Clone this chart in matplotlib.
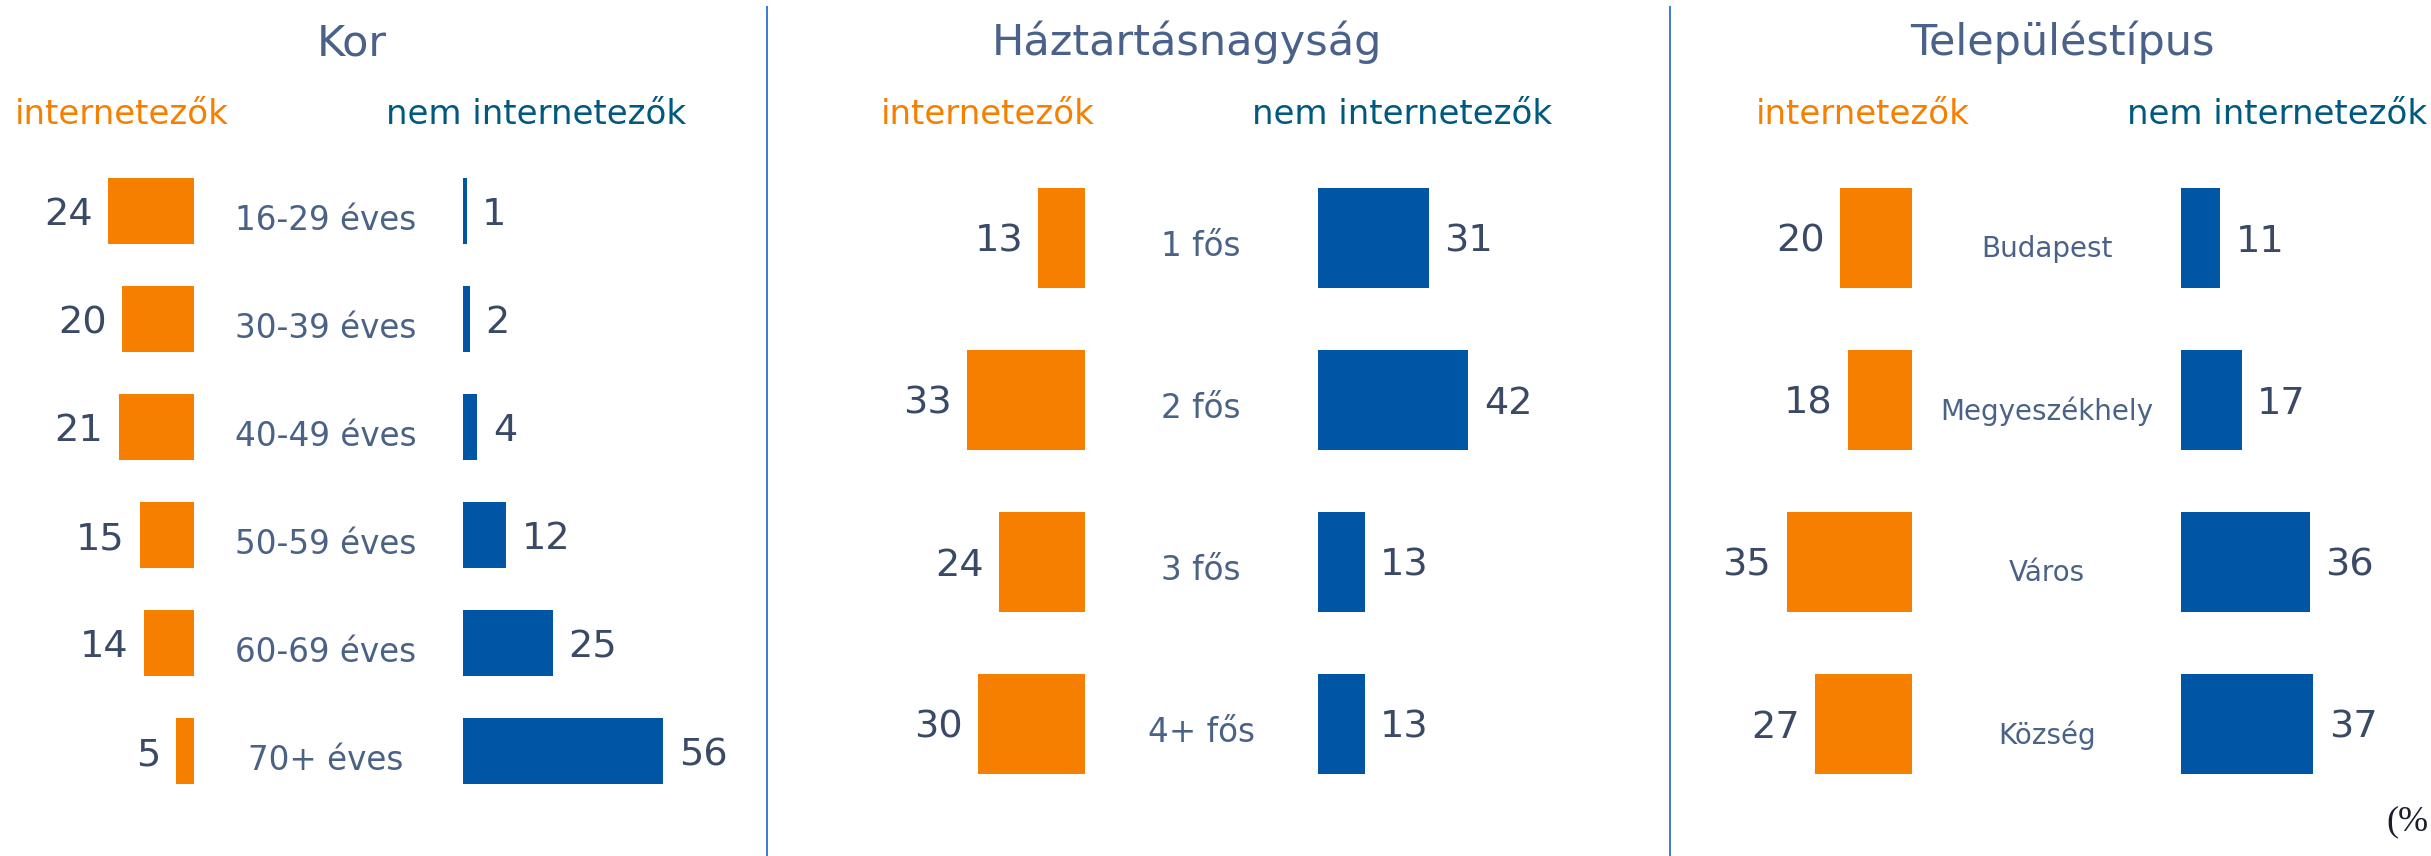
import numpy as np
import matplotlib
matplotlib.use('Agg')
import matplotlib.pyplot as plt
from matplotlib.lines import Line2D
from matplotlib.transforms import blended_transform_factory

# --- ADATOK (százalék) ---
kor_kategoriak = ['16-29 éves', '30-39 éves', '40-49 éves', '50-59 éves', '60-69 éves', '70+ éves']
kor_internetezok = [24, 20, 21, 15, 14, 5]
kor_nem_internetezok = [1, 2, 4, 12, 25, 56]

haztartas_kategoriak = ['1 fős', '2 fős', '3 fős', '4+ fős']
haztartas_internetezok = [13, 33, 24, 30]
haztartas_nem_internetezok = [31, 42, 13, 13]

telepules_kategoriak = ['Budapest', 'Megyeszékhely', 'Város', 'Község']
telepules_internetezok = [20, 18, 35, 27]
telepules_nem_internetezok = [11, 17, 36, 37]

cimek = ['Kor', 'Háztartásnagyság', 'Településtípus']
fejlec_bal = 'internetezők'
fejlec_jobb = 'nem internetezők'

# --- SZÍNEK ---
NARANCS = '#F77F00'
KEK = '#0055A4'
CIM_SZIN = '#4A6189'
CIMKE_SZIN = '#4B6287'
ERTEK_SZIN = '#3A4966'
FEJLEC_KEK = '#00597E'
VONAL_SZIN = '#3A7BD0'

plt.rcParams['font.family'] = ['DejaVu Sans']

# A kép mérete pixelben (dpi=100)
W, H = 2431, 856
PX = 3.58  # pixel / százalékpont


def fx(px):
    return px / W


def fy(px):
    return 1 - px / H


fig = plt.figure(figsize=(W / 100, H / 100), dpi=100)
fig.patch.set_facecolor('white')


def rajzol_panel(cim, kategoriak, bal, jobb, cfg):
    """Egy panel: bal oldalon a narancs, jobb oldalon a kék sávok."""
    n = len(kategoriak)
    teto, alj = 157, 805
    bal_lim, jobb_lim = 45, 60

    ax_b = fig.add_axes([fx(cfg['bal_szel'] - bal_lim * PX), fy(alj), fx(bal_lim * PX), (alj - teto) / H])
    ax_j = fig.add_axes([fx(cfg['jobb_szel']), fy(alj), fx(jobb_lim * PX), (alj - teto) / H])

    y = np.arange(n)
    ax_b.barh(y, bal, height=0.62, color=NARANCS)
    ax_j.barh(y, jobb, height=0.62, color=KEK)
    ax_b.set_xlim(bal_lim, 0)  # megfordítva, hogy balra nőjön
    ax_j.set_xlim(0, jobb_lim)
    for ax in (ax_b, ax_j):
        ax.set_ylim(n - 0.5, -0.5)
        ax.axis('off')

    # értékcímkék a sávok végén
    for i, v in enumerate(bal):
        ax_b.text(v + 4.3, i, str(v), ha='right', va='center_baseline',
                  fontsize=27.5, color=ERTEK_SZIN)
    for i, v in enumerate(jobb):
        ax_j.text(v + 4.3, i, str(v), ha='left', va='center_baseline',
                  fontsize=27.5, color=ERTEK_SZIN)

    # kategórianevek középen
    trans = blended_transform_factory(fig.transFigure, ax_j.transData)
    for i, k in enumerate(kategoriak):
        ax_j.text(fx(cfg['cimke_x']), i + cfg['cimke_dy'], k, transform=trans,
                  ha='center', va='center_baseline', fontsize=cfg['cimke_meret'],
                  color=CIMKE_SZIN)

    # panel címe és fejlécek
    fig.text(fx(cfg['cim_x']), fy(55), cim, ha='center', va='baseline',
             fontsize=31, color=CIM_SZIN)
    fig.text(fx(cfg['fejlec_b']), fy(124), fejlec_bal, ha='center', va='baseline',
             fontsize=24.5, color=NARANCS)
    fig.text(fx(cfg['fejlec_j']), fy(124), fejlec_jobb, ha='center', va='baseline',
             fontsize=24.5, color=FEJLEC_KEK)


rajzol_panel(cimek[0], kor_kategoriak, kor_internetezok, kor_nem_internetezok,
             dict(bal_szel=194, jobb_szel=463, cimke_x=326, cimke_dy=0.06, cimke_meret=23.5,
                  cim_x=352, fejlec_b=122, fejlec_j=536))
rajzol_panel(cimek[1], haztartas_kategoriak, haztartas_internetezok, haztartas_nem_internetezok,
             dict(bal_szel=1085, jobb_szel=1318, cimke_x=1201, cimke_dy=0.03, cimke_meret=23.5,
                  cim_x=1187, fejlec_b=988, fejlec_j=1402))
rajzol_panel(cimek[2], telepules_kategoriak, telepules_internetezok, telepules_nem_internetezok,
             dict(bal_szel=1912, jobb_szel=2181, cimke_x=2047, cimke_dy=0.05, cimke_meret=20,
                  cim_x=2062, fejlec_b=1863, fejlec_j=2277))

# elválasztó vonalak a panelek között
for x in (767, 1670):
    fig.add_artist(Line2D([fx(x), fx(x)], [fy(7), 0], color=VONAL_SZIN, lw=1.4))

# mértékegység a jobb alsó sarokban (a referencián csak ennyi látszik)
fig.text(fx(2428), fy(822), '(%', ha='right', va='center', fontsize=26,
         family='Liberation Serif', color='#1B1E2E')

fig.savefig('out.png', dpi=100, facecolor='white')
